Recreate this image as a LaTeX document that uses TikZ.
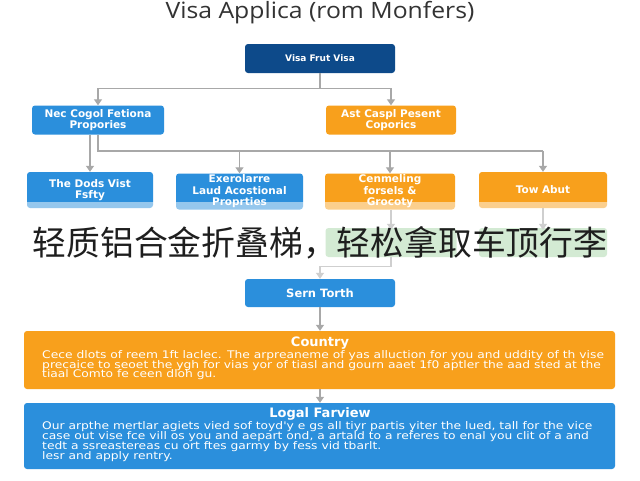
\documentclass[tikz,border=0pt]{standalone}
\usepackage{fontspec}
\setmainfont{DejaVu Sans}
\newfontfamily\cjkfont{Noto Sans CJK SC}
\newfontfamily\titlefont{Open Sans}
\newfontfamily\boxfont{DejaVu Sans}
\usetikzlibrary{arrows.meta}
\definecolor{dkblue}{HTML}{0D4A8A}
\definecolor{mblue}{HTML}{2B8FDC}
\definecolor{morange}{HTML}{F8A01C}
\definecolor{pgreen}{HTML}{D3EAD3}
\definecolor{lgrey}{HTML}{A8A8A8}
\definecolor{llgrey}{HTML}{CFCFCF}
\definecolor{captext}{HTML}{1E1E1E}
\newcommand{\wide}[1]{\scalebox{1.17}[1]{#1}}
\tikzset{
  boxbase/.style={rounded corners=3pt, text=white, align=center, inner sep=0pt,
    font=\boxfont\bfseries\fontsize{10.5}{11.5}\selectfont},
  bluebox/.style={boxbase, fill=mblue},
  orangebox/.style={boxbase, fill=morange},
  darkbox/.style={boxbase, fill=dkblue},
  greenbox/.style={rounded corners=3pt, fill=pgreen, inner sep=0pt},
  conn/.style={draw=lgrey, line width=1.3pt},
  lconn/.style={draw=llgrey, line width=1.3pt},
  arr/.style={conn, -{Triangle[width=8pt,length=6pt]}},
  larr/.style={lconn, -{Triangle[width=8pt,length=6pt]}},
  bodytext/.style={anchor=west, text=white, inner sep=0pt,
    font=\boxfont\fontsize{10.5}{11}\selectfont},
  headtext/.style={text=white, inner sep=0pt, font=\boxfont\bfseries\fontsize{13}{14}\selectfont}
}
\begin{document}
\begin{tikzpicture}[x=1pt,y=-1pt]
\useasboundingbox (0,0) rectangle (640,480);
\fill[white] (0,0) rectangle (640,480);

\node[font=\titlefont\fontsize{22.5}{26}\selectfont, text=black!80] (title) at (320,13) {\scalebox{1.1}[1]{Visa Applica (rom Monfers)}};

\node[darkbox, minimum width=150pt, minimum height=29pt, font=\boxfont\bfseries\fontsize{9}{11}\selectfont] (top) at (320,58.5) {Visa Frut Visa};
\node[bluebox, minimum width=132pt, minimum height=29pt] (n21) at (98,120) {Nec Cogol Fetiona\\Propories};
\node[orangebox, minimum width=130pt, minimum height=29pt] (n22) at (391,120) {Ast Caspl Pesent\\Coporics};

\node[bluebox, minimum width=126pt, minimum height=36pt] (r1) at (90,190) {The Dods Vist\\Fsfty};
\node[bluebox, minimum width=127pt, minimum height=36pt] (r2) at (239.5,191.5) {Exerolarre\\Laud Acostional\\Proprties};
\node[orangebox, minimum width=130pt, minimum height=36pt] (r3) at (390,191.5) {Cenmeling\\forsels \&\\Grocoty};
\node[orangebox, minimum width=128pt, minimum height=36pt] (r4) at (543,190) {Tow Abut};
\fill[white, opacity=0.5] (20,202) rectangle (620,210);

\node[greenbox, minimum width=131pt, minimum height=29pt] (g1) at (391,242.5) {};
\node[greenbox, minimum width=128pt, minimum height=29pt] (g2) at (543,242.5) {};

\node[bluebox, minimum width=150pt, minimum height=28pt, font=\boxfont\bfseries\fontsize{11.5}{13}\selectfont] (sern) at (320,293) {Sern Torth};

\node[orangebox, minimum width=591pt, minimum height=58pt] (country) at (319.5,360) {};
\node[bluebox, minimum width=591pt, minimum height=66pt] (legal) at (319.5,436) {};

% connectors
\draw[conn] (top.south) -- ++(0,15) coordinate (j1);
\draw[arr] (j1) -| (n21.north);
\draw[arr] (j1) -| (n22.north);
\draw[arr] (r1.north |- n21.south) -- (r1.north);
\coordinate (j2) at (98,151);
\draw[conn] (n21.south) -- (j2) -- (r4.north |- j2);
\draw[arr] (r2.north |- j2) -- (r2.north);
\draw[arr] (r3.north |- j2) -- (r3.north);
\draw[arr] (r4.north |- j2) -- (r4.north);
\draw[larr] (g1.north |- r3.south) -- ([yshift=-2pt]g1.north);
\draw[larr] (g2.north |- r4.south) -- ([yshift=-2pt]g2.north);
\draw[larr] (g1.south) -- ++(0,9) -| (sern.north);
\draw[arr] (sern.south) -- (sern.south |- country.north);
\draw[arr] (country.south -| sern.south) -- (legal.north -| sern.south);

% caption
\node[font=\cjkfont\fontsize{33.8}{40}\selectfont, text=captext, inner sep=0pt] (cap) at (320,243) {轻质铝合金折叠梯，轻松拿取车顶行李};

% country text
\node[headtext] (ch) at (320,343) {Country};
\node[bodytext] (c1) at (42,356) {\wide{Cece dlots of reem 1ft laclec. The arpreaneme of yas alluction for you and uddity of th vise}};
\node[bodytext] (c2) at (42,366) {\wide{precaice to seoet the ygh for vias yor of tiasl and gourn aaet 1f0 aptler the aad sted at the}};
\node[bodytext] (c3) at (42,375) {\wide{tiaal Comto fe ceen dloh gu.}};

% legal text
\node[headtext] (lh) at (320,414) {Logal Farview};
\node[bodytext] (l1) at (42,427) {\wide{Our arpthe mertlar agiets vied sof toyd'y e gs all tiyr partis yiter the lued, tall for the vice}};
\node[bodytext] (l2) at (42,437) {\wide{case out vise fce vill os you and aepart ond, a artald to a referes to enal you clit of a and}};
\node[bodytext] (l3) at (42,447) {\wide{tedt a ssreastereas cu ort ftes garmy by fess vid tbarlt.}};
\node[bodytext] (l4) at (42,457) {\wide{lesr and apply rentry.}};
\end{tikzpicture}
\end{document}
